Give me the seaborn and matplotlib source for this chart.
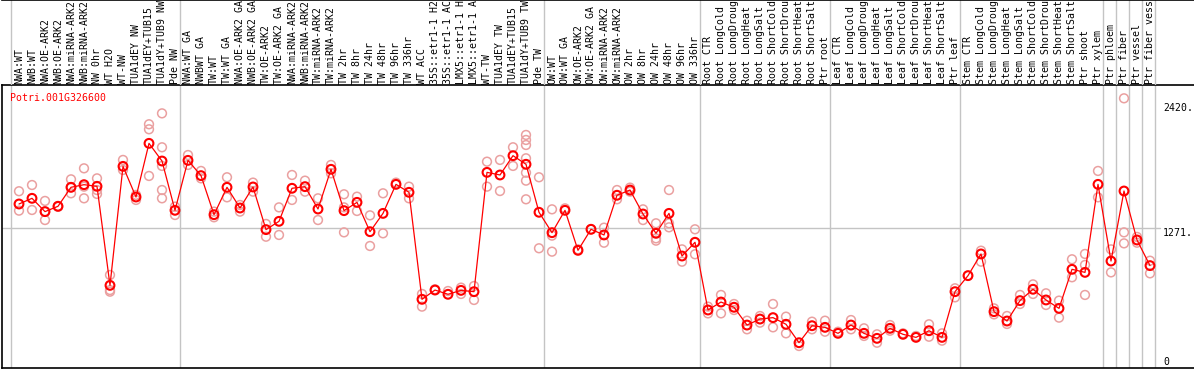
import numpy as np
import pandas as pd
import matplotlib
matplotlib.use("Agg")
import matplotlib.pyplot as plt
import seaborn as sns

gene = "Potri.001G326600"

labels = [
    "NWA:WT", "NWB:WT", "NWA:OE-ARK2", "NWB:OE-ARK2", "NWA:miRNA-ARK2", "NWB:miRNA-ARK2",
    "NW 0hr", "WT H2O", "WT-NW", "TUA1dEY NW", "TUA1dEY+TUB15", "TUA1dY+TUB9 NW", "Pde NW",
    "NWA:WT GA", "NWBWT GA", "TW:WT", "TW:WT GA", "NWA:OE-ARK2 GA", "NWB:OE-ARK2 GA",
    "TW:OE-ARK2", "TW:OE-ARK2 GA", "NWA:miRNA-ARK2", "NWB:miRNA-ARK2", "TW:miRNA-ARK2",
    "TW:miRNA-ARK2", "TW 2hr", "TW 8hr", "TW 24hr", "TW 48hr", "TW 96hr", "TW 336hr",
    "WT ACC", "35S::etr1-1 H2", "35S::etr1-1 AC", "LMX5::etr1-1 H", "LMX5::etr1-1 A",
    "WT-TW", "TUA1dEY TW", "TUA1dEY+TUB15", "TUA1dY+TUB9 TW", "Pde TW",
    "OW:WT", "OW:WT GA", "OW:OE-ARK2", "OW:OE-ARK2 GA", "OW:miRNA-ARK2", "OW:miRNA-ARK2",
    "OW 2hr", "OW 8hr", "OW 24hr", "OW 48hr", "OW 96hr", "OW 336hr",
    "Root CTR", "Root LongCold", "Root LongDroug", "Root LongHeat", "Root LongSalt",
    "Root ShortCold", "Root ShortDrou", "Root ShortHeat", "Root ShortSalt", "Ptr root",
    "Leaf CTR", "Leaf LongCold", "Leaf LongDroug", "Leaf LongHeat", "Leaf LongSalt",
    "Leaf ShortCold", "Leaf ShortDrou", "Leaf ShortHeat", "Leaf ShortSalt", "Ptr leaf",
    "Stem CTR", "Stem LongCold", "Stem LongDroug", "Stem LongHeat", "Stem LongSalt",
    "Stem ShortCold", "Stem ShortDrou", "Stem ShortHeat", "Stem ShortSalt", "Ptr shoot",
    "Ptr xylem", "Ptr phloem", "Ptr fiber", "Ptr vessel", "Ptr fiber vess",
]

means = [
    1491, 1543, 1421, 1470, 1644, 1668, 1653, 745, 1836, 1555, 2047, 1885, 1433,
    1891, 1751, 1393, 1644, 1454, 1647, 1256, 1332, 1635, 1650, 1445, 1809, 1430,
    1506, 1237, 1405, 1671, 1598, 617, 702, 663, 699, 687, 1781, 1757, 1934, 1855,
    1415, 1228, 1433, 1066, 1259, 1207, 1571, 1619, 1399, 1222, 1405, 1014, 1140,
    519, 592, 544, 381, 436, 449, 388, 219, 375, 360, 305, 381, 305, 259, 351, 296,
    268, 329, 268, 687, 834, 1033, 504, 418, 605, 709, 611, 534, 892, 864, 1671,
    968, 1610, 1161, 926,
]

reps = [
    [1608, 1430], [1665, 1436], [1519, 1344, 1421], [1470, 1465], [1717, 1589, 1644],
    [1818, 1543, 1650], [1726, 1583, 1619], [840, 702, 687], [1895, 1803], [1574, 1528],
    [2222, 2176, 1748], [2322, 2011, 1619, 1543, 1840], [1467, 1390], [1940, 1849],
    [1794, 1726], [1421, 1369], [1736, 1552], [1482, 1421], [1687, 1604], [1308, 1191],
    [1460, 1207], [1757, 1528], [1705, 1604], [1543, 1344], [1849, 1772],
    [1580, 1460, 1231], [1558, 1427], [1387, 1106], [1589, 1222], [1687], [1650, 1543],
    [666, 550], [709], [693], [724, 666], [739, 611], [1879, 1650], [1895, 1610],
    [2011, 1840], [2124, 2078, 2032, 1910, 1778, 1705, 1534], [1736, 1085],
    [1442, 1201, 1054], [1451], [1075], [1259], [1274, 1136], [1619, 1534], [1641, 1604],
    [1442, 1344], [1314, 1176, 1155], [1619, 1314, 1277], [1075, 962], [1259, 1030],
    [550, 488], [657, 488], [574, 519], [421, 342], [464, 403], [574, 360], [458, 305],
    [189], [412, 342], [421, 320], [320], [427, 342], [351, 281], [296, 219], [381, 329],
    [305], [281], [388, 274], [305, 238], [718, 635], [834], [1063, 962], [534, 479],
    [464, 391], [657, 574], [754, 666], [672, 565], [605, 449], [984, 819],
    [1033, 932, 657], [1794, 1552], [1075, 864], [2460, 1231, 1130], [1189, 1136],
    [971, 855],
]

group_last = [-1, 12, 40, 52, 62, 72, 83, 84, 85, 86, 87]
ytick_vals = [0, 1271, 2420]
ytick_text = ["0", "1271.", "2420."]

# ---- data frames ----
n = len(labels)
df_mean = pd.DataFrame({"pos": np.arange(n), "value": means})
rows = [(i, v) for i, r in enumerate(reps) for v in r]
df_rep = pd.DataFrame(rows, columns=["pos", "value"])

sns.set_style("white")
plt.rcParams["font.family"] = ["DejaVu Sans Mono", "DejaVu Sans"]

W, H = 1194, 370
fig = plt.figure(figsize=(W / 100, H / 100), dpi=100)

# pixel mapping: x_px = 19 + 13 * i
xl = ((2 - 19) / 13, (1194 - 19) / 13)
xr_grid = (1160 - 19) / 13

ax = fig.add_axes([2 / W, 2 / H, 1192 / W, 283 / H])
ax.set_xlim(*xl)
ax.set_ylim(-12.8, 2582)
ax.spines["right"].set_visible(False)
for s in ["left", "bottom", "top"]:
    ax.spines[s].set_color("black")
    ax.spines[s].set_linewidth(1.2)
ax.set_xticks([])
ax.set_yticks([])

grid_c = "#c4c4c4"
for k in group_last:
    ax.axvline(k + 0.4, color=grid_c, lw=1.0, zorder=0)
ax.plot([xl[0], xr_grid], [1271, 1271], color=grid_c, lw=1.0, zorder=0)

sns.scatterplot(data=df_rep, x="pos", y="value", ax=ax, marker="o", s=40,
                facecolors="none", edgecolor="#eaa0a0", linewidth=1.1, zorder=2,
                legend=False)
sns.lineplot(data=df_mean, x="pos", y="value", ax=ax, color="#ff0000", lw=0.9,
             zorder=3, legend=False)
sns.scatterplot(data=df_mean, x="pos", y="value", ax=ax, marker="o", s=40,
                facecolors="none", edgecolor="#ff0000", linewidth=1.5, zorder=4,
                legend=False)
ax.set_xlabel("")
ax.set_ylabel("")

ax.text(-0.69, 2582 - (93 - 85) / 0.10905, gene, color="#ff0000", fontsize=7.1,
        ha="left", va="top")

tx = (1163 - 19) / 13
for v, t in zip(ytick_vals, ytick_text):
    ax.text(tx, v, t, color="black", fontsize=7.1, ha="left",
            va="bottom" if v == 0 else "top")

# label area
axl = fig.add_axes([2 / W, 285 / H, 1192 / W, 85 / H])
axl.set_xlim(*xl)
axl.set_ylim(85, 0)
axl.set_xticks([])
axl.set_yticks([])
for s in ["left", "right", "bottom"]:
    axl.spines[s].set_visible(False)
axl.spines["top"].set_color("black")
axl.spines["top"].set_linewidth(1.2)
axl.patch.set_alpha(0)
for k in group_last:
    axl.axvline(k + 0.4, color=grid_c, lw=1.0, zorder=0)
for i, lab in enumerate(labels):
    axl.text(i, 83.5, lab[:14], rotation=90, ha="center", va="bottom",
             fontsize=7.1, color="black", clip_on=True)

fig.savefig("out.png", dpi=100)
